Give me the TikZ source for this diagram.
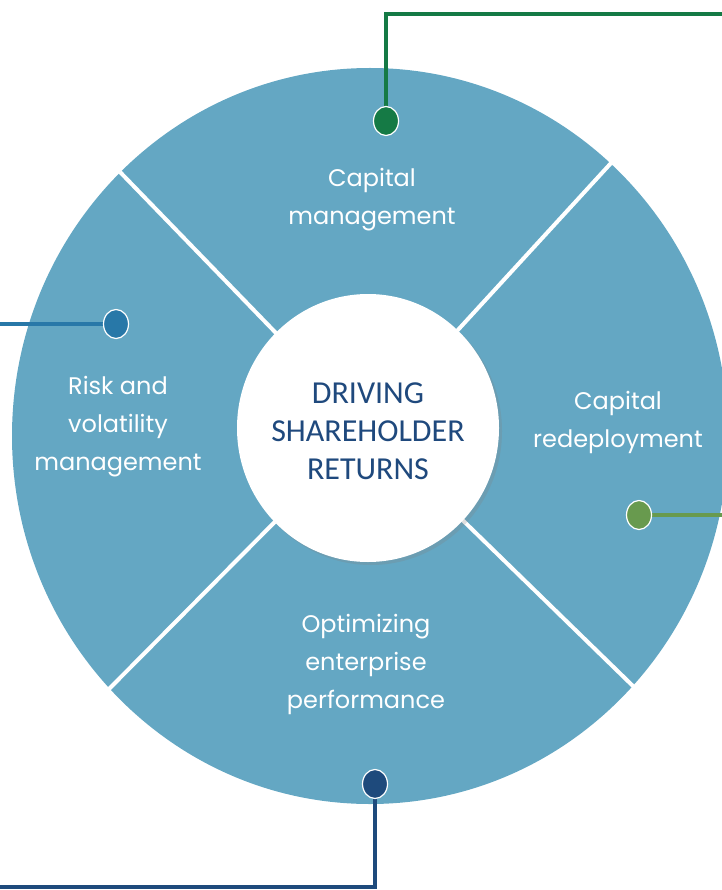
\documentclass[tikz,border=0pt]{standalone}
\usepackage{fontspec}
\setmainfont{Poppins}
\newfontfamily\hubfont{Carlito}
\usetikzlibrary{shapes.geometric,shadows}

\definecolor{ringblue}{RGB}{100,167,195}
\definecolor{hubtext}{RGB}{31,73,125}
\definecolor{capgreen}{RGB}{21,122,69}
\definecolor{riskblue}{RGB}{40,120,168}
\definecolor{redgreen}{RGB}{104,154,78}
\definecolor{optnavy}{RGB}{30,74,124}

\pgfdeclarelayer{ring}
\pgfdeclarelayer{wires}
\pgfsetlayers{ring,wires,main}

\begin{document}
\begin{tikzpicture}[x=1pt, y=-1pt,
	seglabel/.style={text=white, align=center, font=\fontsize{24}{38}\selectfont},
	hub/.style={ellipse, fill=white, minimum width=262pt, minimum height=268pt, inner sep=0pt,
		drop shadow={shadow xshift=3pt, shadow yshift=-3pt, opacity=.25}},
	hublabel/.style={text=hubtext, align=center, font=\hubfont\fontsize{32}{38}\selectfont},
	pin/.style={ellipse, draw=white, line width=1.2pt, minimum width=25pt, minimum height=29pt, inner sep=0pt},
	wire/.style={line width=4.5pt}]
	\useasboundingbox (0,0) rectangle (721,890);

	% the ring and its four cuts
	\begin{pgfonlayer}{ring}
		\fill[ringblue] (370,436) ellipse [x radius=358, y radius=368];
		\foreach \ex/\ey in {120/172, 612/162, 108/690, 635/688}
			\draw[white, line width=4pt] (368,428) -- (\ex,\ey);
	\end{pgfonlayer}

	\node[hub] (hub) at (368,428) {};
	\node[hublabel] (drive) at (368,431) {DRIVING\\SHAREHOLDER\\RETURNS};

	\node[seglabel] (capital) at (372,200) {Capital\\management};
	\node[seglabel] (risk) at (118,427) {Risk and\\volatility\\management};
	\node[seglabel] (redeploy) at (618,422) {Capital\\redeployment};
	\node[seglabel] (optimize) at (366,664) {Optimizing\\enterprise\\performance};

	\node[pin, fill=capgreen] (capdot) at (386,121) {};
	\node[pin, fill=riskblue] (riskdot) at (116,324) {};
	\node[pin, fill=redgreen] (reddot) at (639,515) {};
	\node[pin, fill=optnavy] (optdot) at (375,784) {};

	\coordinate (capend) at (724,14);
	\coordinate (riskend) at (-3,324);
	\coordinate (redend) at (724,515);
	\coordinate (optend) at (-3,887);

	% connectors run off the page
	\begin{pgfonlayer}{wires}
		\draw[wire, capgreen] (capdot.center) |- (capend);
		\draw[wire, riskblue] (riskdot.center) -- (riskend);
		\draw[wire, redgreen] (reddot.center) -- (redend);
		\draw[wire, optnavy] (optdot.center) |- (optend);
	\end{pgfonlayer}
\end{tikzpicture}
\end{document}
